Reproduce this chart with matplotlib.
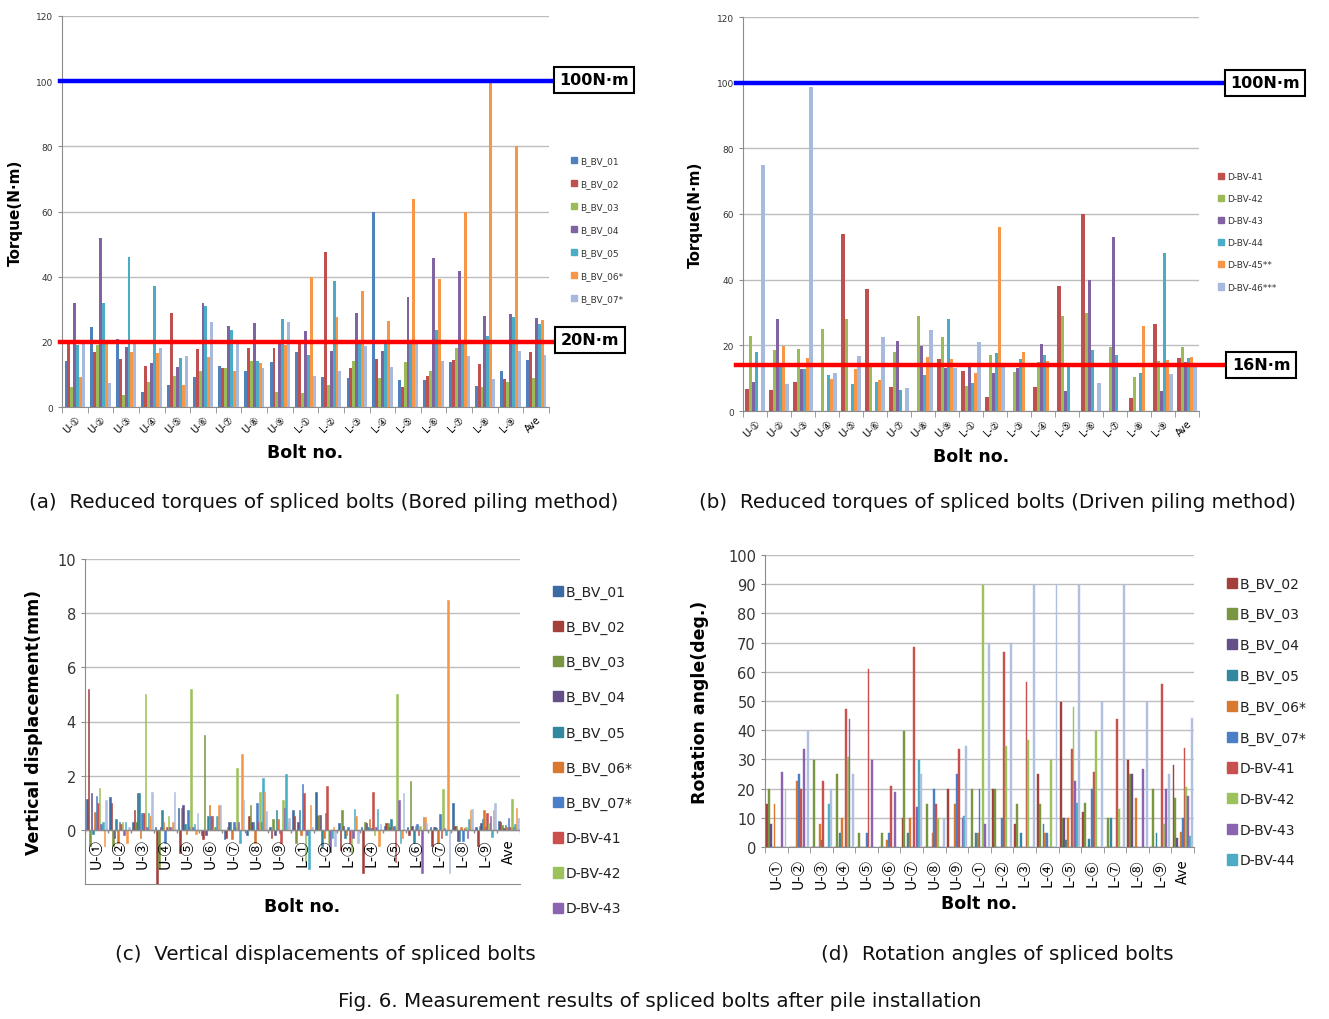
import numpy as np
import matplotlib
matplotlib.use("Agg")
import matplotlib.pyplot as plt
from matplotlib.patches import Patch

plt.rcParams['font.family'] = ['DejaVu Sans']

# ---------------- data ----------------
categories = ["U-①", "U-②", "U-③", "U-④", "U-⑤", "U-⑥", "U-⑦", "U-⑧", "U-⑨",
              "L-①", "L-②", "L-③", "L-④", "L-⑤", "L-⑥", "L-⑦", "L-⑧", "L-⑨", "Ave"]

# (a) bored piling torques
a_names = ["B_BV_01", "B_BV_02", "B_BV_03", "B_BV_04", "B_BV_05", "B_BV_06*", "B_BV_07*"]
a_B01 = [14, 24.5, 21, 4.6, 6.9, 9.2, 12.7, 11, 13.9, 17, 9.2, 8.8, 60, 8.3, 8.3, 13.9, 6.5, 11, 14.5]
a_B02 = [19.3, 17, 14.7, 12.7, 29, 17.8, 12, 18, 18, 19.3, 47.7, 12, 14.7, 6.2, 9.4, 14.5, 13.2, 8.6, 16.8]
a_B03 = [6.2, 19, 3.8, 7.6, 9.4, 11, 12, 14, 4.6, 4.3, 6.8, 14.2, 8.8, 13.9, 11.2, 18, 6.2, 7.8, 8.8]
a_B04 = [32, 52, 18.4, 13.5, 12.4, 32, 25, 25.8, 20, 23.3, 17.3, 28.9, 17.3, 33.7, 45.6, 41.8, 28, 28.5, 27.3]
a_B05 = [19, 32, 46, 37, 15, 31, 23.6, 14.2, 27, 16, 38.8, 19.8, 20, 20, 23.6, 20, 21.9, 27.5, 25.5]
a_B06 = [9.2, 20, 17, 16.6, 6.9, 15.3, 11, 13.5, 19, 40, 27.7, 35.7, 26.5, 63.8, 39.3, 60, 99.8, 80, 26.7]
a_B07 = [20, 7.4, 19.6, 18, 15.6, 26, 19.3, 12, 26, 9.4, 11, 18.8, 12.3, 20, 14.2, 15.8, 8.6, 17.1, 16]
a_limits = [100, 20]

# (b) driven piling torques
b_names = ["D-BV-41", "D-BV-42", "D-BV-43", "D-BV-44", "D-BV-45**", "D-BV-46***"]
b_D41 = [6.7, 6.4, 8.9, 0, 53.9, 37.1, 7.2, 0, 15.8, 12.1, 4.2, 0, 7.2, 38.2, 60, 0, 3.9, 26.5, 16]
b_D42 = [22.9, 18.6, 18.9, 25, 28, 13.8, 17.9, 28.8, 22.6, 7.7, 17.1, 11.8, 14.8, 28.8, 30, 19.4, 10.5, 15.1, 19.4]
b_D43 = [8.9, 28, 12.8, 0, 0, 0, 21.4, 19.9, 13, 13.3, 11.5, 13.1, 20.4, 6.2, 40, 52.9, 0, 6.2, 15]
b_D44 = [18.1, 13.4, 12.8, 10.9, 8.2, 8.9, 6.4, 10.9, 27.9, 8.4, 17.6, 15.8, 17, 13.3, 18.6, 17.1, 11.5, 48.1, 16]
b_D45 = [0, 19.9, 16, 9.7, 12.8, 9.5, 0, 16.3, 15.8, 11.5, 56, 18, 15.1, 0, 0, 0, 25.8, 15.5, 16.3]
b_D46 = [74.9, 8.2, 98.6, 11.6, 16.6, 22.4, 6.9, 24.8, 13, 21.1, 14.3, 0, 0, 0, 8.4, 0, 0, 11.3, 14.3]
b_limits = [100, 14]
b_limit_labels = ["100N·m", "16N·m"]

# (c) vertical displacements
c_names = ["B_BV_01", "B_BV_02", "B_BV_03", "B_BV_04", "B_BV_05", "B_BV_06*", "B_BV_07*",
           "D-BV-41", "D-BV-42", "D-BV-43", "D-BV-44", "D-BV-45**", "D-BV-46***"]
c_B01 = [1.15, 1.2, 0.3, 0.1, 0.8, -0.2, -0.35, -0.2, 0.1, 0.72, 1.4, 0.27, 0.1, 0.15, 0.1, 0.1, 1.0, 0.1, 0.34]
c_B02 = [5.2, 1.0, 0.74, -2.0, -0.85, -0.35, -0.3, 0.5, -0.3, 0.5, 0.5, -0.74, -1.6, 0.27, -0.2, -0.6, 0.15, -0.6, 0.3]
c_B03 = [-0.6, -0.6, 0.3, -1.4, 0.8, 3.5, 0.1, 0.9, 0.4, -0.5, 0.55, 0.74, 0.3, 0.27, 1.8, 0.1, 0.15, 0.15, 0.18]
c_B04 = [1.35, -0.3, 1.35, 0.1, 0.9, -0.2, 0.3, 0.3, -0.2, 0.3, 0.55, 0.15, 0.27, 0.1, 0.15, 0.1, -0.4, 0.27, 0.05]
c_B05 = [-0.15, 0.4, 1.35, 0.74, 0.2, 0.5, 0.3, 0.3, 0.75, 0.72, -0.6, -0.3, 0.1, 0.4, -0.5, 0.05, -0.4, 0.4, 0.18]
c_B06 = [0.65, -0.5, -0.3, 0.3, -0.15, 0.9, -0.35, -0.5, 0.4, -0.2, -0.3, -0.2, 0.4, 0.1, 0.15, -0.5, 0.1, 0.74, 0.1]
c_B07 = [1.25, 0.3, 0.64, -0.5, 0.74, 0.5, 0.3, 1.0, -0.1, 1.7, 0.64, 0.1, 0.05, 0.15, 0.2, 0.6, -0.4, 0.1, 0.43]
c_D41 = [1.0, 0.2, 0.64, 0.1, 0.1, 0.5, 0.1, 0.3, -0.47, 1.37, 1.62, -0.5, 1.38, -1.2, -0.2, -0.3, 0.05, 0.62, 0.1]
c_D42 = [1.55, 0.3, 5.0, 0.5, 5.2, 0.1, 2.3, 1.4, 1.1, -1.2, -0.5, -0.86, -0.2, 5.0, 0.15, 1.5, 0.1, 0.27, 1.13]
c_D43 = [0.2, -0.2, 0.1, 0.1, 0.1, 0.1, 0.3, 0.3, 0.8, -0.2, -0.8, -0.3, 0.1, 1.1, -1.6, 0.05, -0.3, 0.5, 0.1]
c_D44 = [0.3, 0.3, 0.64, 0.1, 0.2, 0.5, -0.5, 1.9, 2.07, -1.45, -0.3, 0.76, 0.76, -0.5, 0.47, -0.2, 0.4, -0.25, 0.2]
c_D45 = [-0.6, -0.5, 0.5, 0.3, -0.15, 0.9, 2.8, 1.4, 0.3, 0.9, 0.1, 0.5, -0.6, -0.3, 0.47, 8.5, 0.74, 0.74, 0.8]
c_D46 = [1.1, 0.1, 1.4, 1.4, 0.64, 0.9, 1.1, 0.7, 0.45, 0.1, -0.6, -0.5, 0.2, 1.35, 0.27, -1.6, 0.76, 1.0, 0.43]

# (d) rotation angles
d_names = ["B_BV_02", "B_BV_03", "B_BV_04", "B_BV_05", "B_BV_06*", "B_BV_07*",
           "D-BV-41", "D-BV-42", "D-BV-43", "D-BV-44", "D-BV-46***"]
d_B02 = [14.6, 0, 0, 0, 0, 0, 10, 0, 19.8, 0, 19.8, 8, 24.9, 49.7, 12, 0, 29.7, 0, 28]
d_B03 = [19.8, 0, 29.7, 24.9, 4.9, 4.9, 39.7, 14.6, 0, 19.8, 19.8, 14.6, 14.6, 10, 14.9, 10, 24.9, 19.8, 16.8]
d_B04 = [8, 0, 0, 0, 0, 0, 0, 0, 0, 0, 0, 0, 0, 10, 0, 0, 24.9, 0, 3]
d_B05 = [0, 0, 0, 4.9, 0, 0, 4.9, 0, 0, 4.9, 0, 4.9, 8, 2.5, 2.9, 10, 0, 4.9, 0]
d_B06 = [14.6, 22.6, 8, 10, 0, 2.5, 10, 4.9, 14.6, 4.9, 0, 0, 4.9, 10, 0, 0, 16.8, 0, 5.1]
d_B07 = [0, 24.9, 2.5, 0, 4.9, 4.9, 0, 19.8, 24.9, 19.8, 10, 0, 4.9, 0, 19.8, 0, 0, 0, 10]
d_D41 = [0, 19.8, 22.6, 47.1, 60.8, 20.8, 68.6, 14.6, 33.7, 0, 66.9, 56.6, 0, 33.7, 25.7, 44, 0, 55.8, 34]
d_D42 = [0, 0, 0, 30.9, 0, 0, 0, 10, 0, 89.7, 34.6, 36.8, 29.7, 48, 39.7, 13.1, 0, 8, 20.6]
d_D43 = [25.7, 33.7, 0, 44, 29.7, 18.9, 13.7, 0, 10, 8, 0, 0, 0, 22.6, 0, 0, 26.6, 19.8, 17.4]
d_D44 = [0, 0, 14.6, 0, 0, 0, 29.7, 0, 10.5, 0, 0, 0, 0, 14.9, 0, 0, 0, 0, 3.7]
d_D46 = [19.8, 39.7, 19.8, 24.9, 0, 0, 24.9, 10, 34.6, 69.7, 69.7, 89.7, 89.7, 89.7, 49.7, 89.7, 49.7, 24.9, 44.3]

# ---------------- styling ----------------
col_ab = ["#4F81BD", "#C0504D", "#9BBB59", "#8064A2", "#4BACC6", "#F79646", "#A7B9DC"]
col_b = ["#C0504D", "#9BBB59", "#8064A2", "#4BACC6", "#F79646", "#A7B9DC"]
col_c = ["#3C6AA2", "#A3403C", "#7A9640", "#654F88", "#33889F", "#D9782F", "#4A7EC6",
         "#C9504C", "#9CC25B", "#8C63B0", "#4BACC6", "#F79646", "#AFC0E0"]
col_d = ["#A3403C", "#7A9640", "#654F88", "#33889F", "#D9782F", "#4A7EC6",
         "#C9504C", "#9CC25B", "#8C63B0", "#4BACC6", "#AFC0E0"]
GRID = "#BDBDBD"
CJK = ['Noto Sans CJK KR', 'DejaVu Sans']
W, H = 1329, 1020


def fx(x):
    return x / W


def fy(y):
    return 1 - y / H


fig = plt.figure(figsize=(W / 100, H / 100), dpi=100)


def rect(x0, y0, x1, y1):
    return [fx(x0), fy(y1), fx(x1) - fx(x0), fy(y0) - fy(y1)]


def grouped(ax, series, colors, group=0.8, edge=0.0):
    n = len(series)
    x = np.arange(len(categories))
    w = group / n
    for k, (vals, c) in enumerate(zip(series, colors)):
        ax.bar(x + (k - (n - 1) / 2) * w, vals, w, color=c, edgecolor=c, linewidth=edge, zorder=3)


def base_axes(ax, ytick_fs):
    ax.set_xlim(-0.5, len(categories) - 0.5)
    for s in ["top", "right"]:
        ax.spines[s].set_visible(False)
    for s in ["left", "bottom"]:
        ax.spines[s].set_color("#8C8C8C")
    ax.yaxis.grid(True, color=GRID, lw=1.0, zorder=0)
    ax.set_axisbelow(True)
    ax.tick_params(axis="y", labelsize=ytick_fs, colors="#8C8C8C", labelcolor="#333333", length=3)
    ax.set_xticks(np.arange(len(categories) + 1) - 0.5, minor=True)
    ax.tick_params(axis="x", which="minor", length=4, color="#8C8C8C")


# ---------- (a) ----------
axa = fig.add_axes(rect(62, 17, 549, 408))
grouped(axa, [a_B01, a_B02, a_B03, a_B04, a_B05, a_B06, a_B07], col_ab)
base_axes(axa, 6.5)
axa.set_ylim(0, 120)
axa.set_yticks(np.arange(0, 121, 20))
axa.set_xticks(np.arange(len(categories)))
axa.set_xticklabels(categories, rotation=45, ha="right", rotation_mode="anchor", fontsize=7)
axa.tick_params(axis="x", which="major", length=0, pad=5)
axa.set_ylabel("Torque(N·m)", fontsize=11, fontweight="bold", labelpad=9)
axa.set_xlabel("Bolt no.", fontsize=12.5, fontweight="bold", labelpad=6)
for v, c in zip(a_limits, ["#0000FF", "#FF0000"]):
    axa.plot([-0.005, 1.01], [v, v], transform=axa.get_yaxis_transform(), color=c, lw=3.2,
             clip_on=False, zorder=5)
fig.text(fx(594), fy(81), "100N·m", fontsize=11.5, fontweight="bold", ha="center", va="center",
         bbox=dict(boxstyle="square,pad=0.35", fc="white", ec="black", lw=1.5))
fig.text(fx(590), fy(341), "20N·m", fontsize=11.5, fontweight="bold", ha="center", va="center",
         bbox=dict(boxstyle="square,pad=0.35", fc="white", ec="black", lw=1.5))
fig.legend(handles=[Patch(color=c, label=n) for c, n in zip(col_ab, a_names)],
           loc="upper left", bbox_to_anchor=(fx(563), fy(149)), frameon=False, fontsize=6.5,
           handlelength=0.7, handleheight=0.7, handletextpad=0.3, labelspacing=1.55,
           labelcolor="#333333")

# ---------- (b) ----------
axb = fig.add_axes(rect(743, 18, 1199, 412))
grouped(axb, [b_D41, b_D42, b_D43, b_D44, b_D45, b_D46], col_b)
base_axes(axb, 6.5)
axb.set_ylim(0, 120)
axb.set_yticks(np.arange(0, 121, 20))
axb.set_xticks(np.arange(len(categories)))
axb.set_xticklabels(categories, rotation=45, ha="right", rotation_mode="anchor", fontsize=7)
axb.tick_params(axis="x", which="major", length=0, pad=5)
axb.set_ylabel("Torque(N·m)", fontsize=11, fontweight="bold", labelpad=10)
axb.set_xlabel("Bolt no.", fontsize=12.5, fontweight="bold", labelpad=6)
for v, c in zip(b_limits, ["#0000FF", "#FF0000"]):
    axb.plot([-0.015, 1.055], [v, v], transform=axb.get_yaxis_transform(), color=c, lw=3.2,
             clip_on=False, zorder=5)
fig.text(fx(1265), fy(84), b_limit_labels[0], fontsize=11.5, fontweight="bold", ha="center",
         va="center", bbox=dict(boxstyle="square,pad=0.35", fc="white", ec="black", lw=1.5))
fig.text(fx(1261), fy(366), b_limit_labels[1], fontsize=11.5, fontweight="bold", ha="center",
         va="center", bbox=dict(boxstyle="square,pad=0.35", fc="white", ec="black", lw=1.5))
fig.legend(handles=[Patch(color=c, label=n) for c, n in zip(col_b, b_names)],
           loc="upper left", bbox_to_anchor=(fx(1210), fy(165)), frameon=False, fontsize=6.5,
           handlelength=0.7, handleheight=0.7, handletextpad=0.3, labelspacing=1.45,
           labelcolor="#333333")

# ---------- (c) ----------
axc = fig.add_axes(rect(85, 560, 520, 885))
grouped(axc, [c_B01, c_B02, c_B03, c_B04, c_B05, c_B06, c_B07, c_D41, c_D42, c_D43, c_D44, c_D45, c_D46],
        col_c, group=0.9, edge=0.4)
base_axes(axc, 10.5)
axc.set_ylim(-2, 10)
axc.set_yticks(np.arange(0, 11, 2))
axc.set_xticks([])
axc.set_xticks(np.arange(len(categories) + 1) - 0.5, minor=True)
axc.tick_params(axis="x", which="minor", length=0)
axc.axhline(0, color="#8C8C8C", lw=1.0, zorder=4)
axc.vlines(np.arange(len(categories) + 1) - 0.5, -0.12, 0, color="#8C8C8C", lw=1.0, zorder=4)
for i, lab in enumerate(categories):
    axc.text(i, -0.3, lab, rotation=90, ha="center", va="top", fontsize=10.5, zorder=6,
             family=CJK)
axc.set_ylabel("Vertical displacement(mm)", fontsize=12.5, fontweight="bold", labelpad=10)
axc.set_xlabel("Bolt no.", fontsize=12.5, fontweight="bold", labelpad=6)
fig.legend(handles=[Patch(color=c, label=n) for c, n in zip(col_c[:10], c_names[:10])],
           loc="upper left", bbox_to_anchor=(fx(540), fy(573)), frameon=False, fontsize=10,
           handlelength=0.75, handleheight=0.75, handletextpad=0.2, labelspacing=1.52,
           labelcolor="#222222")

# ---------- (d) ----------
axd = fig.add_axes(rect(765, 556, 1194, 848))
grouped(axd, [d_B02, d_B03, d_B04, d_B05, d_B06, d_B07, d_D41, d_D42, d_D43, d_D44, d_D46],
        col_d, group=0.9, edge=0.3)
base_axes(axd, 10.5)
axd.set_ylim(0, 100)
axd.set_yticks(np.arange(0, 101, 10))
axd.set_xticks(np.arange(len(categories)))
axd.set_xticklabels(categories, rotation=90, fontsize=10.5, family=CJK)
axd.tick_params(axis="x", which="major", length=0, pad=8)
axd.set_ylabel("Rotation angle(deg.)", fontsize=12.5, fontweight="bold", labelpad=14)
axd.set_xlabel("Bolt no.", fontsize=12.5, fontweight="bold", labelpad=4)
fig.legend(handles=[Patch(color=c, label=n) for c, n in zip(col_d[:10], d_names[:10])],
           loc="upper left", bbox_to_anchor=(fx(1214), fy(565)), frameon=False, fontsize=10,
           handlelength=0.75, handleheight=0.75, handletextpad=0.2, labelspacing=1.2,
           labelcolor="#222222")

# ---------- captions ----------
cap = dict(fontsize=14.3, ha="center", va="center", color="#111111")
fig.text(fx(324), fy(503), "(a)  Reduced torques of spliced bolts (Bored piling method)", **cap)
fig.text(fx(997), fy(503), "(b)  Reduced torques of spliced bolts (Driven piling method)", **cap)
fig.text(fx(325), fy(955), "(c)  Vertical displacements of spliced bolts", **cap)
fig.text(fx(997), fy(955), "(d)  Rotation angles of spliced bolts", **cap)
fig.text(fx(660), fy(1002), "Fig. 6. Measurement results of spliced bolts after pile installation", **cap)

fig.savefig("out.png", dpi=100)
